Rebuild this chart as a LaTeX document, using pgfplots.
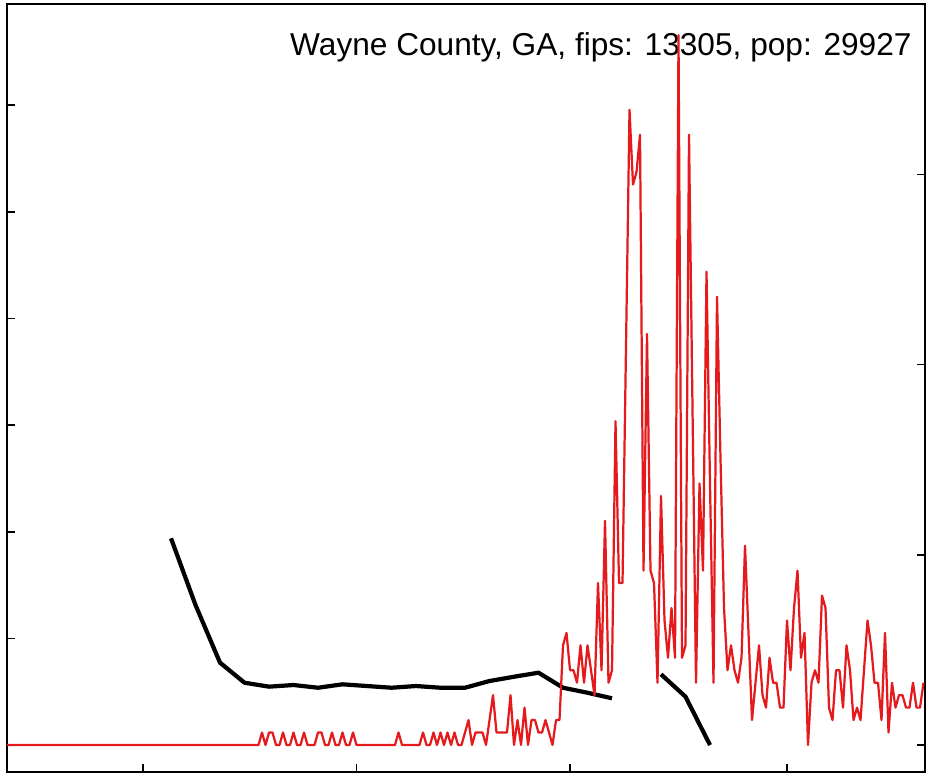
\documentclass[border=0pt]{standalone}
\usepackage{pgfplots}
\pgfplotsset{compat=1.18}
\usepackage{fontspec}
\setmainfont{Liberation Sans}
\definecolor{casered}{RGB}{228,26,28}

% daily new cases (day 0 = 22 Jan 2020)
\pgfplotstableread{
d c
0 0
10 0
20 0
30 0
40 0
50 0
60 0
72 0
73 1
74 0
75 1
76 1
77 0
78 0
79 1
80 0
81 0
82 1
83 0
84 0
85 1
86 0
87 0
88 0
89 1
90 1
91 0
92 0
93 1
94 0
95 0
96 1
97 0
98 0
99 1
100 0
111 0
112 1
113 0
118 0
119 1
120 0
121 0
122 1
123 0
124 1
125 0
126 1
127 0
128 1
129 0
130 0
131 1
132 2
133 0
134 1
135 1
136 1
137 0
138 2
139 4
140 1
141 1
142 1
143 1
144 4
145 0
146 2
147 0
148 3
149 0
150 2
151 2
152 1
153 1
154 2
155 1
156 0
157 2
158 2
159 8
160 9
161 6
162 6
163 5
164 8
165 5
166 8
167 6
168 4
169 13
170 6
171 18
172 5
173 6
174 26
175 13
176 13
177 32
178 51
179 45
180 46
181 49
182 14
183 33
184 14
185 13
186 5
187 20
188 10
189 7
190 11
191 7
192 57
193 7
194 8
195 49
196 27
197 5
198 21
199 14
200 38
201 21
202 5
203 36
204 23
205 11
206 6
207 8
208 6
209 5
210 7
211 16
212 9
213 2
214 5
215 8
216 4
217 3
218 7
219 5
220 5
221 3
222 3
223 10
224 6
225 11
226 14
227 7
228 9
229 0
230 5
231 6
232 5
233 12
234 11
235 3
236 2
237 6
238 6
239 3
240 8
241 6
242 2
243 3
244 2
245 6
246 10
247 8
248 5
249 5
250 2
251 9
252 1
253 5
254 3
255 4
256 4
257 3
258 3
259 5
260 3
261 3
262 5
}\cases

\pgfplotsset{
  panel/.style={
    scale only axis, width=13.77cm, height=11.52cm,
    xmin=0.14, xmax=262.43,
    axis line style={line width=0.85pt},
    tick align=inside,
    major tick length=0.12cm,
    tick style={black, line width=0.7pt},
    xticklabels={}, yticklabels={},
  }
}

\begin{document}
\begin{tikzpicture}
% page = frame plus the thin margin of the reference
\useasboundingbox (-0.105cm,-0.03cm) rectangle (13.815cm,11.58cm);
% left scale: weekly curve
\begin{axis}[panel,
    ymin=-0.253, ymax=6.947,
    ytick={0,1,2,3,4,5,6}, ytick pos=left,
    xtick={39,100,161,223}, xtick pos=bottom]
  \addplot[black, line width=1.8pt, line join=round] coordinates {
    (47,1.938) (54,1.3125) (61,0.772) (68,0.584) (75,0.547) (82,0.5625)
    (89,0.537) (96,0.569) (103,0.553) (110,0.537) (117,0.553) (124,0.537)
    (131,0.537) (138,0.600) (145,0.640) (152,0.678) (159,0.537) (166,0.490)
    (173,0.438)
  };
  \addplot[black, line width=1.8pt, line join=round] coordinates {
    (187,0.663) (194,0.453) (201,0)
  };
  \node[anchor=base east, inner sep=0pt, xshift=-0.195cm, yshift=-0.7725cm,
        font=\fontsize{13.5pt}{16pt}\selectfont]
    at (rel axis cs:1,1) {Wayne County, GA, fips: 13305, pop: 29927};
\end{axis}
% right scale: daily cases
\begin{axis}[panel,
    ymin=-2.17, ymax=59.5,
    ytick={0,15.27,30.54,45.81}, ytick pos=right,
    xtick=\empty]
  \addplot[casered, line width=0.95pt, line join=round] table[x=d, y=c] {\cases};
\end{axis}
\end{tikzpicture}
\end{document}
